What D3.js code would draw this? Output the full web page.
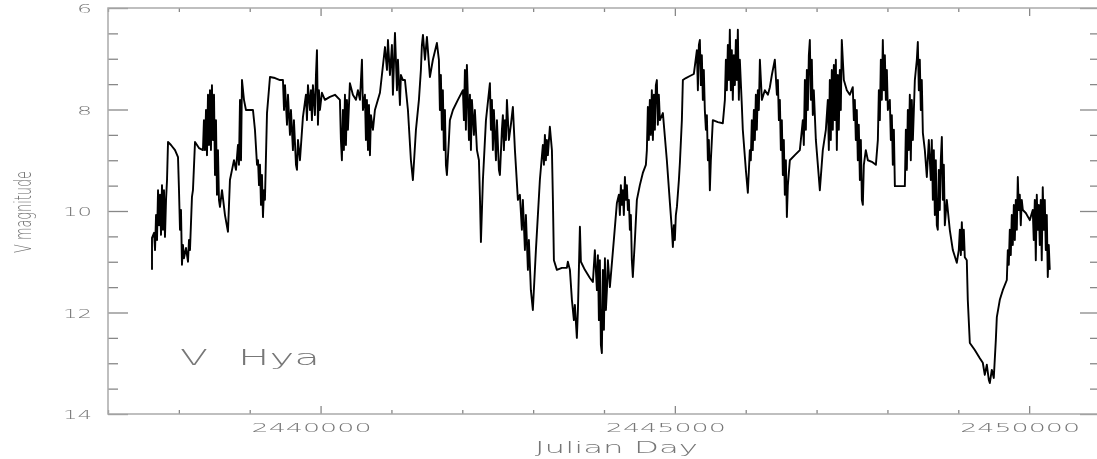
<!DOCTYPE html>
<html lang="en">
<head>
<meta charset="utf-8">
<title>V Hya</title>
<script src="https://d3js.org/d3.v7.min.js"></script>
<style>
  body { margin: 0; background: #fff; }
  text { font-family: "DejaVu Sans", sans-serif; font-weight: 200; fill: #777; }
</style>
</head>
<body>
<script>
const rjd = [
  37621,37621,37650,37664,37678,37692,37706,37720,37734,37748,37762,37776,37790,37804,37819,37833,37847,37889,37946,37988,
  38002,38016,38030,38044,38058,38072,38101,38129,38143,38157,38185,38199,38228,38284,38340,38354,38369,38383,38397,38411,
  38425,38439,38453,38467,38481,38496,38510,38524,38538,38552,38566,38580,38609,38651,38693,38721,38750,38778,38806,38834,
  38848,38863,38877,38891,38919,38947,39004,39046,39074,39103,39117,39131,39145,39159,39173,39187,39201,39215,39244,39286,
  39357,39427,39469,39484,39498,39526,39540,39568,39582,39610,39624,39653,39667,39681,39709,39751,39793,39808,39822,39850,
  39864,39878,39892,39920,39935,39949,39963,39977,39991,40019,40061,40132,40203,40273,40287,40301,40315,40329,40344,40358,
  40372,40386,40414,40456,40499,40527,40556,40584,40598,40626,40640,40654,40669,40683,40697,40711,40739,40767,40838,40909,
  40937,40951,40979,41007,41021,41050,41078,41092,41120,41134,41162,41191,41233,41275,41303,41346,41388,41416,41430,41445,
  41473,41501,41543,41585,41642,41670,41684,41698,41712,41726,41740,41755,41769,41783,41811,41825,41868,41938,42009,42023,
  42037,42051,42065,42080,42094,42108,42122,42136,42164,42178,42207,42235,42249,42263,42291,42334,42390,42404,42418,42432,
  42446,42475,42489,42517,42531,42559,42573,42587,42602,42616,42630,42658,42686,42714,42743,42785,42813,42841,42855,42884,
  42898,42926,42940,42968,42996,43039,43095,43137,43152,43166,43180,43194,43208,43236,43265,43279,43293,43335,43406,43476,
  43490,43519,43547,43575,43589,43617,43632,43660,43674,43730,43801,43843,43871,43900,43914,43928,43942,43956,43970,43984,
  43999,44013,44027,44041,44055,44083,44139,44182,44210,44224,44238,44252,44266,44280,44295,44309,44323,44337,44351,44365,
  44379,44393,44407,44436,44464,44506,44548,44591,44605,44619,44633,44647,44661,44675,44690,44704,44718,44732,44746,44760,
  44774,44789,44831,44887,44930,44958,44972,44986,45000,45014,45029,45057,45071,45099,45113,45156,45212,45268,45311,45325,
  45339,45353,45367,45381,45395,45409,45423,45438,45452,45466,45480,45494,45508,45536,45607,45677,45706,45720,45734,45748,
  45762,45776,45790,45804,45818,45832,45847,45861,45875,45889,45903,45917,45945,45959,46002,46030,46058,46072,46086,46100,
  46115,46129,46143,46157,46171,46185,46200,46228,46270,46313,46341,46369,46411,46440,46454,46468,46482,46496,46510,46524,
  46538,46552,46567,46581,46595,46623,46693,46764,46806,46820,46835,46849,46863,46877,46891,46905,46919,46933,46947,46961,
  46990,47018,47046,47088,47131,47159,47173,47187,47201,47215,47229,47244,47258,47272,47286,47300,47314,47328,47342,47356,
  47385,47427,47469,47511,47526,47540,47554,47568,47582,47596,47611,47625,47639,47653,47667,47695,47724,47780,47837,47865,
  47879,47893,47907,47921,47935,47950,47964,47978,47992,48006,48034,48048,48062,48076,48091,48105,48175,48246,48260,48274,
  48288,48302,48316,48330,48344,48359,48387,48415,48429,48443,48457,48471,48485,48500,48528,48556,48584,48612,48626,48641,
  48655,48669,48683,48697,48711,48725,48739,48753,48768,48782,48796,48810,48838,48880,48923,48979,49007,49022,49036,49050,
  49064,49078,49092,49120,49134,49163,49233,49304,49346,49374,49403,49431,49445,49473,49501,49530,49544,49586,49628,49685,
  49699,49713,49727,49741,49755,49769,49784,49798,49812,49826,49840,49854,49868,49882,49896,49911,49953,50009,50051,50065,
  50080,50094,50108,50122,50136,50150,50164,50178,50192,50207,50221,50235,50249,50263,50277,50291
];
const vmag = [
  11.16,10.53,10.43,10.77,10.08,10.57,9.59,10.28,9.68,10.47,9.49,10.37,9.59,10.51,9.78,9.39,8.64,8.70,8.80,8.94,
  9.59,10.37,9.98,11.06,10.67,10.93,10.73,11.00,10.57,10.77,9.72,9.59,8.64,8.76,8.80,8.21,8.80,8.01,8.90,7.71,
  8.70,7.62,8.80,7.52,8.60,7.71,9.29,8.21,9.68,8.80,9.78,9.92,9.59,10.08,10.41,9.39,9.19,9.00,9.19,8.70,
  9.09,7.81,9.00,7.42,7.81,8.01,8.01,8.01,8.40,9.09,9.00,9.49,9.09,9.88,9.29,10.12,9.59,9.78,8.07,7.36,
  7.38,7.42,7.42,8.01,7.52,8.30,7.71,8.50,8.01,8.80,8.21,9.09,9.19,8.60,9.00,8.15,7.71,8.21,7.52,8.01,
  7.62,8.21,7.52,8.11,7.32,6.83,8.30,7.62,8.01,7.67,7.81,7.75,7.71,7.81,8.60,9.00,8.01,8.80,7.71,8.70,
  7.81,8.40,7.48,7.71,7.81,7.62,7.81,7.02,8.01,7.71,8.60,7.81,8.80,7.91,8.90,8.11,8.40,8.01,7.67,6.77,
  7.22,6.63,7.32,6.73,7.71,6.49,7.62,7.02,7.91,7.32,7.42,7.42,8.01,9.00,9.39,8.40,7.81,7.22,6.73,6.53,
  7.02,6.57,7.36,7.02,6.69,7.02,8.01,7.32,8.40,7.62,8.80,8.01,9.09,9.29,8.60,8.21,8.01,7.81,7.62,8.21,
  7.22,8.40,7.12,7.81,8.60,7.71,8.80,7.81,8.50,8.01,8.80,9.00,9.72,10.61,9.39,8.21,7.48,8.40,7.81,8.80,
  8.01,9.00,8.21,9.19,9.29,8.40,8.11,8.80,8.21,8.60,7.81,8.60,8.30,7.95,8.80,9.78,9.68,10.37,9.78,10.77,
  10.08,11.16,10.57,11.56,11.95,10.77,9.39,8.70,9.09,8.50,9.00,8.60,8.90,8.34,8.80,9.78,10.97,11.16,11.12,11.12,
  11.00,11.16,11.75,12.15,11.85,12.50,11.95,10.31,11.00,11.16,11.32,11.40,10.77,11.56,10.87,12.15,10.97,12.64,12.80,11.16,
  12.34,10.93,11.95,11.56,10.97,11.50,10.57,9.84,9.68,10.08,9.49,9.88,9.59,10.08,9.33,9.78,9.49,9.98,9.78,10.37,
  10.08,10.97,11.30,10.57,9.78,9.49,9.25,9.09,8.80,7.95,8.60,7.81,8.50,7.62,8.60,7.71,8.40,7.52,7.42,8.30,
  7.71,8.21,8.07,9.00,9.84,10.37,10.71,10.28,10.57,10.08,9.92,9.39,9.05,8.21,7.42,7.38,7.34,7.30,6.83,7.62,
  6.73,6.63,7.52,6.93,7.81,7.22,8.01,8.40,8.11,9.00,8.60,9.59,9.00,8.21,8.25,8.27,7.81,7.02,7.62,6.73,
  7.42,6.43,7.62,6.83,7.81,6.93,7.52,6.63,7.42,6.43,7.81,7.02,7.91,8.40,9.19,9.64,8.80,9.00,8.21,8.80,
  8.01,8.60,7.71,8.40,7.62,8.01,7.02,7.81,7.62,7.71,7.56,7.32,7.02,7.71,7.42,8.21,7.81,8.80,8.21,9.29,
  8.60,9.68,9.00,10.12,9.49,9.00,8.90,8.80,8.21,8.70,7.42,8.40,7.22,8.01,6.93,6.63,7.81,7.02,8.11,7.62,
  8.60,9.09,9.59,8.80,8.40,7.81,8.80,7.42,8.60,7.22,8.40,7.12,8.21,7.02,8.80,7.32,8.40,7.22,8.01,6.63,
  7.42,7.62,7.71,7.56,8.21,7.81,8.60,8.01,9.00,8.30,9.39,8.60,9.78,9.88,9.09,8.80,9.00,9.03,9.09,8.60,
  7.62,8.21,7.02,7.81,6.63,7.62,6.93,7.81,7.22,8.01,7.81,8.60,8.11,9.09,8.40,9.51,9.51,9.51,8.40,9.19,
  8.01,8.80,7.71,9.00,7.81,8.60,7.42,7.02,6.67,7.62,7.02,8.01,7.42,8.46,8.80,9.33,8.60,9.39,8.60,9.78,
  8.80,10.08,9.00,10.28,10.37,9.19,9.98,9.00,8.54,9.78,9.09,10.28,9.78,10.37,10.77,11.02,10.77,10.37,10.87,10.22,
  10.77,10.37,10.91,10.97,11.75,12.60,12.74,12.90,12.99,13.23,13.03,13.33,13.39,13.13,13.29,12.54,12.09,11.75,11.56,11.36,
  10.77,11.06,10.37,10.87,10.08,10.67,9.88,10.57,9.78,10.37,9.33,9.98,9.68,10.28,9.78,9.98,10.04,10.18,9.98,10.57,
  9.78,10.97,9.68,10.37,9.88,10.67,9.78,10.97,9.53,10.37,9.78,10.77,10.08,11.30,10.67,11.16
];

const majorJD = [2440000, 2445000, 2450000];
const minorJD = [2437000, 2438000, 2439000, 2441000, 2442000, 2443000, 2444000,
                 2446000, 2447000, 2448000, 2449000, 2451000];
const magTicks = [6, 8, 10, 12, 14];
const magMinor = [6.5, 7, 7.5, 8.5, 9, 9.5, 10.5, 11, 11.5, 12.5, 13, 13.5];

const w = 1097, h = 459;
const margin = {top: 8, right: -3, bottom: 45, left: 108};

const data = rjd.map((d, i) => ({jd: 2400000 + d, mag: vmag[i]}));

const svg = d3.select("body").append("svg")
  .attr("width", w)
  .attr("height", h);

// soft edge like the scanned original
const defs = svg.append("defs");
defs.append("filter").attr("id", "soft")
  .append("feGaussianBlur").attr("stdDeviation", 0.55);
defs.append("filter").attr("id", "softText")
  .append("feGaussianBlur").attr("stdDeviation", 0.35);

const x = d3.scaleLinear()
  .domain([2437000, 2451000])
  .range([margin.left, w - margin.right]);

const y = d3.scaleLinear()
  .domain([6, 14])
  .range([margin.top, h - margin.bottom]);

// ticks
const tickColor = "#888";
function styleAxis(g) {
  g.select(".domain").remove();
  g.selectAll(".tick line").attr("stroke", tickColor).attr("stroke-width", 1.3);
  g.selectAll(".tick text").remove();
}

const bottomY = h - margin.bottom;
svg.append("g").attr("transform", `translate(0,${bottomY})`)
  .call(d3.axisBottom(x).tickValues(minorJD).tickSize(-4)).call(styleAxis);
svg.append("g").attr("transform", `translate(0,${bottomY})`)
  .call(d3.axisBottom(x).tickValues(majorJD).tickSize(-8)).call(styleAxis);
svg.append("g").attr("transform", `translate(0,${margin.top})`)
  .call(d3.axisTop(x).tickValues(minorJD).tickSize(-4)).call(styleAxis);
svg.append("g").attr("transform", `translate(0,${margin.top})`)
  .call(d3.axisTop(x).tickValues(majorJD).tickSize(-8)).call(styleAxis);

svg.append("g").attr("transform", `translate(${margin.left},0)`)
  .call(d3.axisLeft(y).tickValues(magMinor).tickSize(-10)).call(styleAxis);
svg.append("g").attr("transform", `translate(${margin.left},0)`)
  .call(d3.axisLeft(y).tickValues(magTicks).tickSize(-20)).call(styleAxis);
svg.append("g").attr("transform", `translate(${w - margin.right},0)`)
  .call(d3.axisRight(y).tickValues(magMinor).tickSize(-10)).call(styleAxis);
svg.append("g").attr("transform", `translate(${w - margin.right},0)`)
  .call(d3.axisRight(y).tickValues(magTicks).tickSize(-20)).call(styleAxis);

// frame
svg.append("rect")
  .attr("x", x.range()[0])
  .attr("y", y.range()[0])
  .attr("width", x.range()[1] - x.range()[0])
  .attr("height", y.range()[1] - y.range()[0])
  .attr("fill", "none")
  .attr("stroke", "#aaa")
  .attr("stroke-width", 1.5);

const labels = svg.append("g").attr("filter", "url(#softText)");

// tick labels
labels.selectAll(".xlab").data(majorJD).join("text")
  .attr("class", "xlab")
  .attr("x", d => x(d) - 69)
  .attr("y", bottomY + 18)
  .attr("font-size", 13)
  .attr("textLength", 120)
  .attr("lengthAdjust", "spacingAndGlyphs")
  .text(d => d);

labels.selectAll(".ylab").data(magTicks).join("text")
  .attr("class", "ylab")
  .attr("x", d => margin.left - 16 - (d >= 10 ? 29 : 15))
  .attr("y", d => y(d) + 5)
  .attr("font-size", 13)
  .attr("textLength", d => d >= 10 ? 29 : 15)
  .attr("lengthAdjust", "spacingAndGlyphs")
  .text(d => d);

// axis titles
labels.append("text")
  .attr("x", 535)
  .attr("y", 453)
  .attr("font-size", 15)
  .attr("textLength", 163)
  .attr("lengthAdjust", "spacingAndGlyphs")
  .text("Julian Day");

labels.append("text")
  .attr("transform", "translate(31,253) rotate(-90)")
  .attr("font-size", 23)
  .attr("textLength", 82)
  .attr("lengthAdjust", "spacingAndGlyphs")
  .text("V magnitude");

// star name
const star = labels.append("text")
  .attr("y", 365)
  .attr("font-size", 21);
star.append("tspan").attr("x", 180).attr("textLength", 28)
  .attr("lengthAdjust", "spacingAndGlyphs").text("V");
star.append("tspan").attr("x", 238).attr("textLength", 82)
  .attr("lengthAdjust", "spacingAndGlyphs").text("Hya");

// light curve
const line = d3.line()
  .x(d => x(d.jd))
  .y(d => y(d.mag));

svg.append("path")
  .datum(data)
  .attr("fill", "none")
  .attr("stroke", "#000")
  .attr("stroke-width", 1.9)
  .attr("stroke-linejoin", "round")
  .attr("filter", "url(#soft)")
  .attr("d", line);
</script>
</body>
</html>
